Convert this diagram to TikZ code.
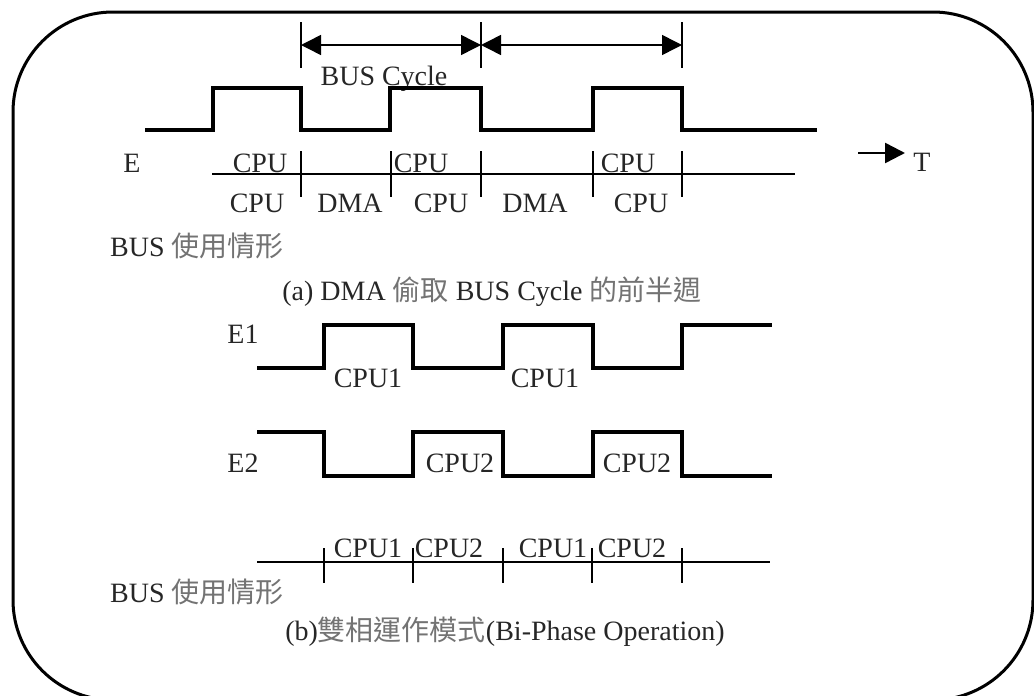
\documentclass[tikz,border=0pt]{standalone}
\usepackage{fontspec}
\setmainfont{Liberation Serif}
\newfontfamily\cjk{Noto Sans CJK TC}
\usetikzlibrary{arrows.meta}
\definecolor{txt}{gray}{0.15}
\definecolor{cjkc}{gray}{0.45}
\newcommand{\zh}[1]{{\cjk\color{cjkc}#1}}
\begin{document}
\begin{tikzpicture}[x=1pt,y=-1pt,
  lbl/.style={anchor=base,inner sep=0pt,text=txt,font=\fontsize{28}{30}\selectfont},
  lbll/.style={lbl,anchor=base west},
  wave/.style={line width=3.2pt,line join=miter},
  busline/.style={line width=1.8pt},
  tick/.style={line width=2.5pt},
  thintick/.style={line width=1.5pt},
  dim/.style={line width=1.5pt,{Triangle[length=20pt,width=20pt]}-{Triangle[length=20pt,width=20pt]}},
  frame/.style={line width=3pt,rounded corners=100pt}]
\useasboundingbox (0,0) rectangle (1034,696);
\clip (0,0) rectangle (1034,696);
\draw[frame] (13,12) rectangle (1033,700);

% ---------- (a) ----------
\coordinate (t1a) at (301,22); \coordinate (t1b) at (301,68);
\coordinate (t2a) at (481,22); \coordinate (t2b) at (481,68);
\coordinate (t3a) at (682,22); \coordinate (t3b) at (682,68);
\draw[tick] (t1a) -- (t1b);
\draw[tick] (t2a) -- (t2b);
\draw[thintick] (t3a) -- (t3b);
\coordinate (d1) at (301,45); \coordinate (d2) at (481,45); \coordinate (d3) at (682,45);
\draw[dim] (d1) -- (d2);
\draw[dim] (d2) -- (d3);
\node[lbl] (bc) at (384,85) {BUS Cycle};

\draw[wave] (145,130) -- (213,130) -- (213,88) -- (301,88) -- (301,130) -- (390,130) -- (390,88)
  -- (481,88) -- (481,130) -- (593,130) -- (593,88) -- (682,88) -- (682,130) -- (817,130);

\node[lbl] (E) at (132,172) {E};
\coordinate (ba1) at (212,174); \coordinate (ba2) at (795,174);
\draw[busline] (ba1) -- (ba2);
\foreach \x/\w in {301/2.8,391/2.8,481/2.8,593/2.8,682/1.5}
  \draw[line width=\w pt] (\x,151) -- (\x,197);
\node[lbl] (ua1) at (260,172) {CPU};
\node[lbl] (ua2) at (421,172) {CPU};
\node[lbl] (ua3) at (628,172) {CPU};
\node[lbl] (la1) at (257,212) {CPU};
\node[lbl] (la2) at (350,212) {DMA};
\node[lbl] (la3) at (441,212) {CPU};
\node[lbl] (la4) at (535,212) {DMA};
\node[lbl] (la5) at (641,212) {CPU};

\coordinate (Ts) at (858,153); \coordinate (Te) at (905,153);
\draw[line width=2.5pt,-{Triangle[length=20pt,width=20pt]}] (Ts) -- (Te);
\node[lbl] (T) at (922,171) {T};

\node[lbll] (busa) at (110,256) {BUS \zh{使用情形}};
\node[lbl] (capa) at (492,300) {(a) DMA \zh{偷取} BUS Cycle \zh{的前半週}};

% ---------- (b) ----------
\node[lbl] (E1) at (243,343) {E1};
\draw[wave] (257,368) -- (324,368) -- (324,325) -- (413,325) -- (413,368) -- (503,368) -- (503,325)
  -- (593,325) -- (593,368) -- (682,368) -- (682,325) -- (772,325);
\node[lbl] (c11) at (368,387) {CPU1};
\node[lbl] (c12) at (545,387) {CPU1};

\node[lbl] (E2) at (243,472) {E2};
\draw[wave] (257,432) -- (324,432) -- (324,476) -- (413,476) -- (413,432) -- (503,432) -- (503,476)
  -- (593,476) -- (593,432) -- (682,432) -- (682,476) -- (772,476);
\node[lbl] (c21) at (460,472) {CPU2};
\node[lbl] (c22) at (637,472) {CPU2};

\coordinate (bb1) at (257,562); \coordinate (bb2) at (770,562);
\draw[line width=2.5pt] (bb1) -- (bb2);
\foreach \x/\w in {324/2.8,413/1.5,503/2.8,592/2.8,682/1.5}
  \draw[line width=\w pt] (\x,548) -- (\x,583);
\node[lbl] (ub1) at (368,557) {CPU1};
\node[lbl] (ub2) at (449,557) {CPU2};
\node[lbl] (ub3) at (553,557) {CPU1};
\node[lbl] (ub4) at (632,557) {CPU2};

\node[lbll] (busb) at (110,602) {BUS \zh{使用情形}};
\node[lbl] (capb) at (505,640) {(b)\zh{雙相運作模式}(Bi-Phase Operation)};
\end{tikzpicture}
\end{document}
